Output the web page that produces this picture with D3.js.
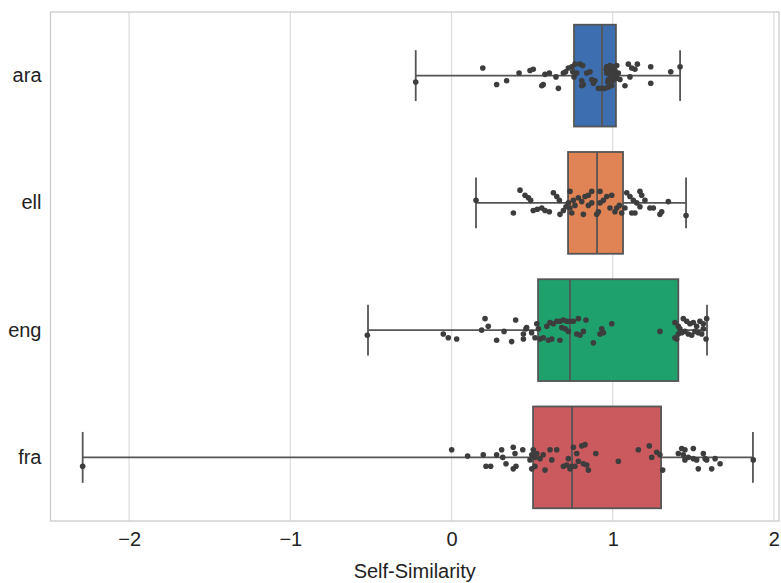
<!DOCTYPE html>
<html>
<head>
<meta charset="utf-8">
<script src="https://cdn.jsdelivr.net/npm/d3@7/dist/d3.min.js"></script>
<style>
  body { margin: 0; background: #fff; }
  text { font-family: "Liberation Sans", Arial, sans-serif; fill: #222222; }
</style>
</head>
<body>
<div class="chart"></div>
<script>
var langs = ['ara', 'ell', 'eng', 'fra'];
var boxColors = ['#3d6fb0', '#e08456', '#1fa16e', '#cb5a5e'];
var xTicks = [-2, -1, 0, 1, 2];

// box statistics per language (same order as langs)
var q1 = [0.760, 0.723, 0.537, 0.506];
var medians = [0.934, 0.903, 0.735, 0.748];
var q3 = [1.020, 1.064, 1.407, 1.300];
var whiskerLo = [-0.222, 0.152, -0.518, -2.288];
var whiskerHi = [1.418, 1.455, 1.585, 1.870];

// strip points: values and vertical jitter (category units)
var araValues = [-0.222,0.194,0.280,0.342,0.419,0.487,0.507,0.569,0.560,0.580,
	0.607,0.648,0.663,0.694,0.708,0.725,0.746,0.766,0.797,0.814,
	0.752,0.777,0.760,0.808,0.818,0.808,0.839,0.859,0.870,0.890,
	0.880,0.911,0.932,0.952,0.973,0.994,0.963,0.983,1.004,1.025,
	0.973,0.994,1.014,0.963,0.983,1.035,1.004,1.025,1.045,0.973,
	1.076,1.097,1.118,1.107,1.153,1.138,1.236,1.236,1.360,1.418,
	0.96,0.99,1.01,0.97,1.00];
var araJitter = [0.05,-0.06,0.07,0.04,-0.02,-0.04,-0.05,0.07,0.08,-0.01,
	-0.02,0.01,0.10,-0.02,-0.03,-0.06,-0.07,-0.09,-0.09,-0.08,
	-0.03,-0.02,0.01,0.04,0.07,0.08,-0.02,-0.03,0.03,0.04,
	0.06,0.10,0.10,0.10,0.09,0.08,-0.07,-0.08,-0.07,-0.08,
	-0.05,-0.03,-0.04,-0.02,-0.01,-0.02,0.01,0.02,0.03,0.03,
	0.08,-0.09,-0.06,0.01,-0.09,-0.05,-0.07,0.06,-0.03,-0.07,
	-0.05,-0.06,-0.01,0.05,0.04];

var ellValues = [0.152,0.384,0.425,0.456,0.477,0.491,0.507,0.532,0.560,0.580,
	0.607,0.632,0.653,0.669,0.673,0.694,0.710,0.725,0.735,0.746,
	0.756,0.766,0.735,0.787,0.808,0.828,0.849,0.870,0.818,0.849,
	0.870,0.901,0.911,0.921,0.921,0.942,0.963,0.983,0.994,1.014,
	1.025,1.041,1.056,1.076,1.087,1.107,1.128,1.149,1.169,1.180,
	1.118,1.138,1.169,1.200,1.231,1.252,1.293,1.304,1.345,1.455];
var ellJitter = [-0.02,0.08,-0.10,-0.06,-0.04,-0.02,0.06,0.05,0.04,0.06,
	0.07,-0.08,-0.05,-0.02,0.09,0.06,0.03,0.00,0.04,0.08,
	-0.02,0.02,-0.09,-0.04,-0.01,-0.05,-0.06,-0.09,0.09,0.02,
	0.00,0.09,0.07,0.00,-0.09,-0.02,-0.05,0.04,-0.06,0.07,
	0.04,0.02,0.08,0.04,-0.08,-0.05,-0.02,0.00,-0.09,-0.06,
	0.08,0.08,0.03,-0.02,0.04,0.04,0.09,0.07,-0.01,0.10];

var engValues = [-0.522,-0.051,-0.020,0.032,0.187,0.208,0.228,0.280,0.326,0.373,
	0.398,0.446,0.446,0.462,0.466,0.497,0.518,0.529,0.539,0.549,
	0.569,0.591,0.611,0.632,0.653,0.673,0.694,0.715,0.735,0.756,
	0.787,0.601,0.622,0.673,0.684,0.705,0.725,0.777,0.797,0.818,
	0.834,0.880,0.921,0.932,0.942,0.994,1.293,1.386,1.407,1.417,
	1.438,1.459,1.479,1.500,1.521,1.541,1.562,1.583,1.386,1.407,
	1.428,1.448,1.469,1.490,1.510,1.531,1.552,1.562,1.579,1.397];
var engJitter = [0.04,0.03,0.06,0.07,0.00,-0.09,-0.03,0.08,0.01,0.09,
	-0.08,0.07,0.03,-0.01,-0.02,0.02,0.06,-0.05,-0.01,0.07,
	0.06,-0.03,-0.06,-0.05,-0.07,-0.07,-0.08,-0.07,-0.07,-0.07,
	-0.09,0.08,0.07,0.08,-0.02,-0.01,0.01,0.03,0.04,0.01,
	-0.08,0.10,0.03,-0.01,0.02,-0.05,0.01,-0.06,-0.03,-0.01,
	-0.09,-0.07,-0.05,-0.06,-0.03,-0.07,-0.05,-0.09,0.06,0.03,
	0.02,0.01,0.03,0.04,0.01,0.02,0.03,-0.01,0.07,0.07];

var fraValues = [-2.288,0.001,0.100,0.197,0.280,0.311,0.318,0.214,0.243,0.338,
	0.383,0.400,0.383,0.394,0.442,0.487,0.498,0.507,0.518,0.529,
	0.549,0.569,0.498,0.518,0.580,0.611,0.622,0.653,0.694,0.715,
	0.725,0.735,0.746,0.756,0.777,0.787,0.808,0.828,0.766,0.839,
	0.849,0.818,0.895,1.035,1.159,1.227,1.242,1.273,1.293,1.310,
	1.407,1.428,1.438,1.448,1.448,1.469,1.500,1.500,1.521,1.531,
	1.562,1.573,1.583,1.614,1.635,1.666,1.872];
var fraJitter = [0.07,-0.06,-0.01,-0.02,-0.02,-0.06,0.00,0.07,0.07,0.05,
	0.09,0.07,-0.08,-0.03,-0.06,0.02,-0.02,-0.06,0.00,-0.03,
	0.01,-0.02,0.09,0.07,0.10,-0.06,0.02,-0.06,0.07,0.06,
	0.01,0.09,0.07,-0.08,-0.03,0.03,-0.09,-0.10,0.07,0.06,
	0.10,0.05,-0.03,0.03,-0.06,-0.09,0.00,-0.04,-0.02,0.10,
	-0.03,-0.07,-0.02,-0.06,0.02,0.00,-0.07,0.01,0.02,0.09,
	-0.03,0.01,0.02,0.09,0.01,0.05,0.02];

var stripValues = [araValues, ellValues, engValues, fraValues];
var stripJitter = [araJitter, ellJitter, engJitter, fraJitter];

var drawChart = function(){
	var w = 781;
	var h = 583;
	var left = 50.5, right = 779, top = 12, bottom = 521;
	var lineColor = '#555555';

	var svg = d3.select('.chart').append('svg')
		.attr('width', w)
		.attr('height', h);

	var x = d3.scaleLinear()
		.domain([-2.4876, 2.0316])
		.range([left, right]);

	var y = d3.scaleBand()
		.domain(langs)
		.range([top, bottom]);

	var bw = y.bandwidth();
	var boxH = bw * 0.8;
	var capH = boxH * 0.5;
	var cy = function(lang){ return y(lang) + bw / 2; };

	/*---------------------------GRID--------------------------*/

	svg.append('g').selectAll('line').data(xTicks).enter()
		.append('line')
		.attr('x1', function(d){ return x(d); })
		.attr('x2', function(d){ return x(d); })
		.attr('y1', top)
		.attr('y2', bottom)
		.attr('stroke', '#dcdcdc')
		.attr('stroke-width', 1.2);

	/*---------------------------BOXES--------------------------*/

	var stats = langs.map(function(lang, i){
		return {lang: lang, q1: q1[i], med: medians[i], q3: q3[i],
			lo: whiskerLo[i], hi: whiskerHi[i], color: boxColors[i]};
	});

	var boxes = svg.append('g').selectAll('g').data(stats).enter()
		.append('g');

	// whiskers
	boxes.append('line')
		.attr('x1', function(d){ return x(d.lo); })
		.attr('x2', function(d){ return x(d.q1); })
		.attr('y1', function(d){ return cy(d.lang); })
		.attr('y2', function(d){ return cy(d.lang); });
	boxes.append('line')
		.attr('x1', function(d){ return x(d.q3); })
		.attr('x2', function(d){ return x(d.hi); })
		.attr('y1', function(d){ return cy(d.lang); })
		.attr('y2', function(d){ return cy(d.lang); });

	// caps
	['lo', 'hi'].forEach(function(k){
		boxes.append('line')
			.attr('x1', function(d){ return x(d[k]); })
			.attr('x2', function(d){ return x(d[k]); })
			.attr('y1', function(d){ return cy(d.lang) - capH / 2; })
			.attr('y2', function(d){ return cy(d.lang) + capH / 2; });
	});

	boxes.selectAll('line')
		.attr('stroke', lineColor)
		.attr('stroke-width', 1.8);

	boxes.append('rect')
		.attr('x', function(d){ return x(d.q1); })
		.attr('width', function(d){ return x(d.q3) - x(d.q1); })
		.attr('y', function(d){ return cy(d.lang) - boxH / 2; })
		.attr('height', boxH)
		.attr('fill', function(d){ return d.color; })
		.attr('stroke', lineColor)
		.attr('stroke-width', 1.8);

	boxes.append('line')
		.attr('x1', function(d){ return x(d.med); })
		.attr('x2', function(d){ return x(d.med); })
		.attr('y1', function(d){ return cy(d.lang) - boxH / 2; })
		.attr('y2', function(d){ return cy(d.lang) + boxH / 2; })
		.attr('stroke', lineColor)
		.attr('stroke-width', 1.8);

	/*---------------------------POINTS--------------------------*/

	var points = [];
	langs.forEach(function(lang, i){
		d3.zip(stripValues[i], stripJitter[i]).forEach(function(p){
			points.push({lang: lang, v: p[0], j: p[1]});
		});
	});

	svg.append('g').selectAll('circle').data(points).enter()
		.append('circle')
		.attr('cx', function(d){ return x(d.v); })
		.attr('cy', function(d){ return cy(d.lang) + d.j * bw; })
		.attr('r', 2.8)
		.attr('fill', '#3d3d3d');

	/*---------------------------FRAME + AXES--------------------------*/

	svg.append('rect')
		.attr('x', left)
		.attr('y', top)
		.attr('width', right - left)
		.attr('height', bottom - top)
		.attr('fill', 'none')
		.attr('stroke', '#cccccc')
		.attr('stroke-width', 1.3);

	var xAxis = svg.append('g')
		.attr('transform', 'translate(0,' + bottom + ')')
		.call(d3.axisBottom(x).tickValues(xTicks).tickFormat(d3.format('d'))
			.tickSize(0).tickPadding(11));
	xAxis.select('.domain').remove();
	xAxis.selectAll('text')
		.attr('font-size', 20)
		.attr('font-family', null);

	var yAxis = svg.append('g')
		.attr('transform', 'translate(' + left + ',0)')
		.call(d3.axisLeft(y).tickSize(0).tickPadding(9));
	yAxis.select('.domain').remove();
	yAxis.selectAll('text')
		.attr('font-size', 20)
		.attr('font-family', null);

	svg.append('text')
		.attr('x', (left + right) / 2)
		.attr('y', 578)
		.attr('text-anchor', 'middle')
		.attr('font-size', 20)
		.text('Self-Similarity');
}();
</script>
</body>
</html>
